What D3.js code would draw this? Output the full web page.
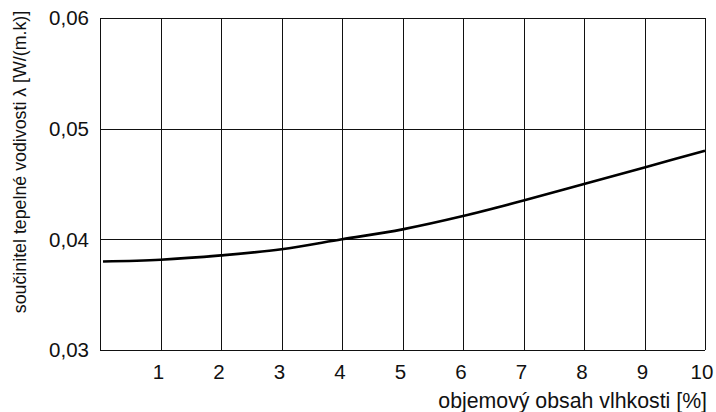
<!DOCTYPE html>
<html><head>
<meta charset="utf-8">
<style>
  body { margin: 0; background: #fff; }
  svg text { font-family: "Liberation Sans", Arial, sans-serif; fill: #111; }
  .grid line { stroke: #111; stroke-width: 1px; shape-rendering: crispEdges; }
  .curve { fill: none; stroke: #000; stroke-width: 2.6px; }
</style>
<script src="https://d3js.org/d3.v7.min.js"></script>
</head>
<body>
<svg id="chart" width="716" height="412"></svg>
<script>
// moisture content [%] vs conductivity λ
const moisture = [0.05, 1, 2, 3, 4, 5, 6, 7, 8, 9, 10];
const lambda = [0.0380, 0.03816, 0.03855, 0.0391, 0.0400, 0.0409, 0.0421, 0.0435, 0.0450, 0.0465, 0.0480];
const xTicks = [1, 2, 3, 4, 5, 6, 7, 8, 9, 10];
const yTicks = [0.03, 0.04, 0.05, 0.06];

const width = 716, height = 412;
const margin = {top: 18, right: 11, bottom: 62, left: 100};

const svg = d3.select("#chart");

const x = d3.scaleLinear().domain([0, 10]).range([margin.left, width - margin.right]);
const y = d3.scaleLinear().domain([0.03, 0.06]).range([height - margin.bottom, margin.top]);

const grid = svg.append("g").attr("class", "grid");

// vertical lines, 0 is the left border
grid.selectAll("line.v")
  .data([0].concat(xTicks))
  .join("line")
  .attr("class", "v")
  .attr("x1", d => Math.round(x(d)) + 0.5)
  .attr("x2", d => Math.round(x(d)) + 0.5)
  .attr("y1", y(0.06))
  .attr("y2", y(0.03));

grid.selectAll("line.h")
  .data(yTicks)
  .join("line")
  .attr("class", "h")
  .attr("x1", x(0))
  .attr("x2", x(10))
  .attr("y1", d => Math.round(y(d)) + 0.5)
  .attr("y2", d => Math.round(y(d)) + 0.5);

// tick labels
const fmt = d => d3.format(".2f")(d).replace(".", ",");

svg.append("g").selectAll("text")
  .data(yTicks)
  .join("text")
  .attr("x", x(0) - 11)
  .attr("y", d => y(d))
  .attr("dy", "0.36em")
  .attr("text-anchor", "end")
  .style("font-size", "20.5px")
  .text(fmt);

svg.append("g").selectAll("text")
  .data(xTicks)
  .join("text")
  .attr("x", d => x(d) - (d === 10 ? 3 : 2))
  .attr("y", y(0.03) + 28.5)
  .attr("text-anchor", "middle")
  .style("font-size", "20.5px")
  .text(d => d);

// curve
const line = d3.line()
  .x((d, i) => x(moisture[i]))
  .y(d => y(d))
  .curve(d3.curveMonotoneX);

svg.append("path")
  .attr("class", "curve")
  .attr("d", line(lambda));

// axis titles
svg.append("text")
  .attr("x", width - 9)
  .attr("y", 408)
  .attr("text-anchor", "end")
  .style("font-size", "21.3px")
  .text("objemový obsah vlhkosti [%]");

svg.append("text")
  .attr("transform", `translate(26,${162}) rotate(-90)`)
  .attr("text-anchor", "middle")
  .style("font-size", "17.8px")
  .text("součinitel tepelné vodivosti λ [W/(m.k)]");
</script>
</body></html>
